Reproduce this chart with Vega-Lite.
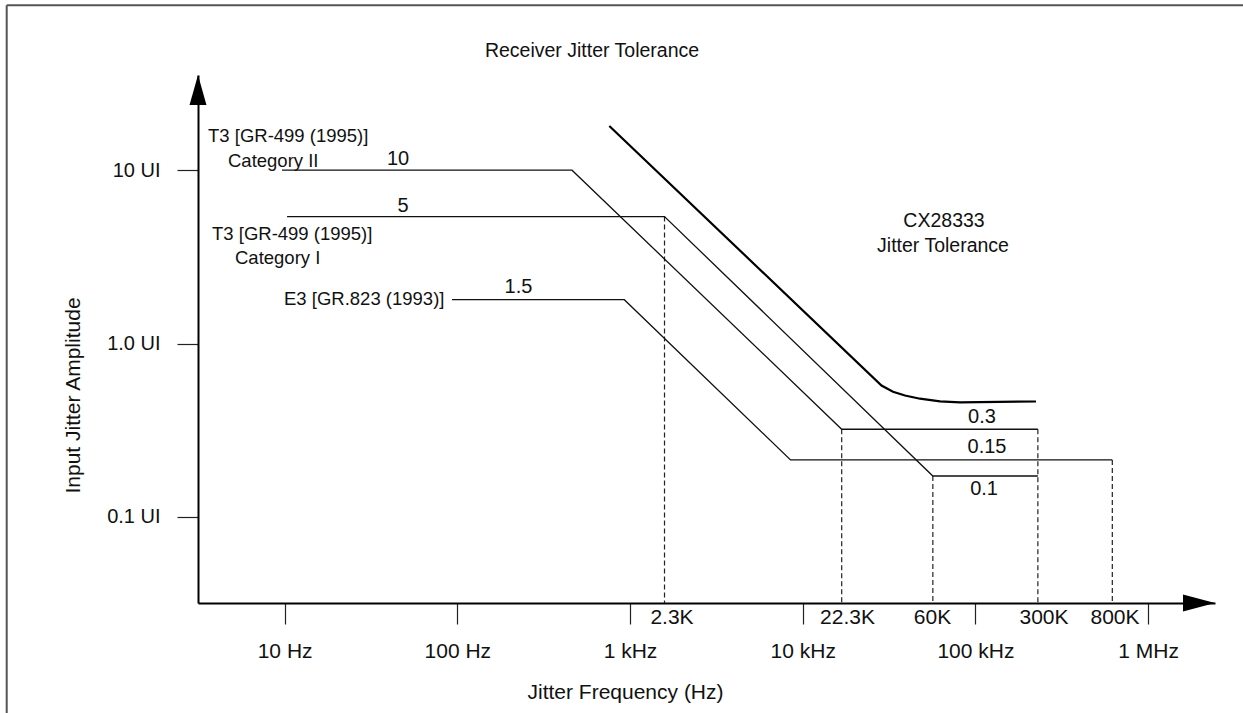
{
  "$schema": "https://vega.github.io/schema/vega-lite/v6.json",
  "usermeta": {"embedOptions": {"actions": false}},
  "width": 1017,
  "height": 528,
  "autosize": {"type": "none"},
  "padding": {"left": 198, "top": 75, "right": 28, "bottom": 110},
  "background": "white",
  "config": {
    "view": {"stroke": null},
    "font": "Liberation Sans",
    "text": {"font": "Liberation Sans", "fontSize": 18}
  },
  "datasets": {
    "curves": [
      {"series": "T3 Category II", "order": 1, "f": 9.66, "v": 10},
      {"series": "T3 Category II", "order": 2, "f": 461.5, "v": 10},
      {"series": "T3 Category II", "order": 3, "f": 16820, "v": 0.32},
      {"series": "T3 Category II", "order": 4, "f": 230000, "v": 0.32},
      {"series": "T3 Category I", "order": 1, "f": 10.33, "v": 5.4},
      {"series": "T3 Category I", "order": 2, "f": 1584, "v": 5.4},
      {"series": "T3 Category I", "order": 3, "f": 56700, "v": 0.172},
      {"series": "T3 Category I", "order": 4, "f": 230000, "v": 0.172},
      {"series": "E3", "order": 1, "f": 93.2, "v": 1.79},
      {"series": "E3", "order": 2, "f": 926.8, "v": 1.79},
      {"series": "E3", "order": 3, "f": 8500, "v": 0.213},
      {"series": "E3", "order": 4, "f": 620500, "v": 0.213},
      {"series": "CX28333", "order": 1, "f": 759, "v": 18.0},
      {"series": "CX28333", "order": 2, "f": 28600, "v": 0.5723},
      {"series": "CX28333", "order": 3, "f": 33340, "v": 0.527},
      {"series": "CX28333", "order": 4, "f": 39110, "v": 0.5011},
      {"series": "CX28333", "order": 5, "f": 47780, "v": 0.4803},
      {"series": "CX28333", "order": 6, "f": 62390, "v": 0.464},
      {"series": "CX28333", "order": 7, "f": 81450, "v": 0.4578},
      {"series": "CX28333", "order": 8, "f": 224300, "v": 0.4628}
    ],
    "dashes": [
      {"f": 1584, "v": 5.4, "vb": 0.03182},
      {"f": 16820, "v": 0.32, "vb": 0.03182},
      {"f": 56700, "v": 0.172, "vb": 0.03182},
      {"f": 230000, "v": 0.32, "vb": 0.03182},
      {"f": 620500, "v": 0.213, "vb": 0.03182}
    ],
    "labels": [
      {"kind": "title", "text": "Receiver Jitter Tolerance", "f": 602.6, "v": 45.3},
      {"kind": "name", "text": "T3 [GR-499 (1995)]", "f": 3.601, "v": 14.55},
      {"kind": "name", "text": "Category II", "f": 4.701, "v": 10.43},
      {"kind": "name", "text": "T3 [GR-499 (1995)]", "f": 3.798, "v": 3.957},
      {"kind": "name", "text": "Category I", "f": 5.161, "v": 2.875},
      {"kind": "name", "text": "E3 [GR.823 (1993)]", "f": 9.92, "v": 1.668},
      {"kind": "value", "text": "10", "f": 45.36, "v": 10.72},
      {"kind": "value", "text": "5", "f": 48.5, "v": 5.74},
      {"kind": "value", "text": "1.5", "f": 226.1, "v": 1.956},
      {"kind": "note", "text": "CX28333", "f": 65800, "v": 4.701},
      {"kind": "note", "text": "Jitter Tolerance", "f": 64930, "v": 3.373},
      {"kind": "value", "text": "0.3", "f": 109200, "v": 0.3478},
      {"kind": "value", "text": "0.15", "f": 116700, "v": 0.2334},
      {"kind": "value", "text": "0.1", "f": 112200, "v": 0.1336},
      {"kind": "freq", "text": "2.3K", "f": 1750, "v": 0.0242},
      {"kind": "freq", "text": "22.3K", "f": 18170, "v": 0.0242},
      {"kind": "freq", "text": "60K", "f": 56450, "v": 0.0242},
      {"kind": "freq", "text": "300K", "f": 249600, "v": 0.0242},
      {"kind": "freq", "text": "800K", "f": 643200, "v": 0.0242}
    ],
    "arrows": [
      {"dir": "up", "f": 3.151, "v": 35.43},
      {"dir": "right", "f": 2440000, "v": 0.03182}
    ],
    "frame": [
      {"side": "top", "f": 0.2459, "f2": 3600000, "v": 89.45, "v2": 89.45},
      {"side": "left", "f": 0.2459, "f2": 0.2459, "v": 89.45, "v2": 0.006}
    ]
  },
  "encoding": {
    "x": {
      "field": "f",
      "type": "quantitative",
      "scale": {"type": "log", "domain": [3.151, 2440000], "nice": false, "zero": false},
      "axis": {
        "values": [10, 100, 1000, 10000, 100000, 1000000],
        "labelExpr": "datum.value == 10 ? '10 Hz' : datum.value == 100 ? '100 Hz' : datum.value == 1000 ? '1 kHz' : datum.value == 10000 ? '10 kHz' : datum.value == 100000 ? '100 kHz' : '1 MHz'",
        "grid": false,
        "domainColor": "#000",
        "domainWidth": 2,
        "tickColor": "#222",
        "tickWidth": 1.2,
        "tickSize": 21,
        "labelFont": "Liberation Sans",
        "labelFontSize": 21,
        "labelColor": "#111",
        "labelBaseline": "alphabetic",
        "labelPadding": 33,
        "labelFlush": false,
        "labelOverlap": false,
        "labelBound": false,
        "title": "Jitter Frequency (Hz)",
        "titleFont": "Liberation Sans",
        "titleFontSize": 21,
        "titleFontWeight": "normal",
        "titleColor": "#111",
        "titleX": 427,
        "titleY": 95,
        "titleAlign": "center",
        "titleBaseline": "alphabetic"
      }
    },
    "y": {
      "field": "v",
      "type": "quantitative",
      "scale": {"type": "log", "domain": [0.03182, 35.43], "nice": false, "zero": false},
      "axis": {
        "values": [0.1, 1, 10],
        "labelExpr": "datum.value >= 5 ? '10 UI' : datum.value >= 0.5 ? '1.0 UI' : '0.1 UI'",
        "grid": false,
        "domainColor": "#000",
        "domainWidth": 2,
        "tickColor": "#222",
        "tickWidth": 1.2,
        "tickSize": 21,
        "labelFont": "Liberation Sans",
        "labelFontSize": 20,
        "labelColor": "#111",
        "labelPadding": 17,
        "labelFlush": false,
        "labelOverlap": false,
        "labelBound": false,
        "title": "Input Jitter Amplitude",
        "titleFont": "Liberation Sans",
        "titleFontSize": 21,
        "titleFontWeight": "normal",
        "titleColor": "#111",
        "titleAngle": 270,
        "titleX": -119,
        "titleY": 320,
        "titleAlign": "center",
        "titleBaseline": "alphabetic"
      }
    }
  },
  "layer": [
    {
      "data": {"name": "frame"},
      "mark": {"type": "rule", "color": "#555", "strokeWidth": 2},
      "encoding": {
        "x2": {"field": "f2"},
        "y2": {"field": "v2"}
      }
    },
    {
      "data": {"name": "dashes"},
      "mark": {"type": "rule", "color": "#222", "strokeWidth": 1.2, "strokeDash": [5, 3]},
      "encoding": {
        "y2": {"field": "vb"}
      }
    },
    {
      "data": {"name": "curves"},
      "transform": [{"filter": "datum.series != 'CX28333'"}],
      "mark": {"type": "line", "color": "#111", "strokeWidth": 1.3},
      "encoding": {
        "detail": {"field": "series", "type": "nominal"},
        "order": {"field": "order", "type": "quantitative"}
      }
    },
    {
      "data": {"name": "curves"},
      "transform": [{"filter": "datum.series == 'CX28333'"}],
      "mark": {"type": "line", "color": "#000", "strokeWidth": 2.2},
      "encoding": {
        "order": {"field": "order", "type": "quantitative"}
      }
    },
    {
      "data": {"name": "labels"},
      "transform": [{"filter": "datum.kind == 'name'"}],
      "mark": {"type": "text", "align": "left", "baseline": "alphabetic", "color": "#111", "font": "Liberation Sans", "fontSize": 18.5},
      "encoding": {
        "text": {"field": "text", "type": "nominal"}
      }
    },
    {
      "data": {"name": "labels"},
      "transform": [{"filter": "datum.kind == 'value'"}],
      "mark": {"type": "text", "align": "center", "baseline": "alphabetic", "color": "#111", "font": "Liberation Sans", "fontSize": 20},
      "encoding": {
        "text": {"field": "text", "type": "nominal"}
      }
    },
    {
      "data": {"name": "labels"},
      "transform": [{"filter": "datum.kind == 'note' || datum.kind == 'title'"}],
      "mark": {"type": "text", "align": "center", "baseline": "alphabetic", "color": "#111", "font": "Liberation Sans", "fontSize": 19.5},
      "encoding": {
        "text": {"field": "text", "type": "nominal"}
      }
    },
    {
      "data": {"name": "labels"},
      "transform": [{"filter": "datum.kind == 'freq'"}],
      "mark": {"type": "text", "align": "center", "baseline": "alphabetic", "color": "#111", "font": "Liberation Sans", "fontSize": 21},
      "encoding": {
        "text": {"field": "text", "type": "nominal"}
      }
    },
    {
      "data": {"name": "arrows"},
      "mark": {"type": "point", "filled": true, "size": 1024, "color": "#000", "strokeWidth": 0, "opacity": 1},
      "encoding": {
        "shape": {
          "field": "dir",
          "type": "nominal",
          "scale": {"domain": ["up", "right"], "range": ["M0,0L0.53,1.875L-0.53,1.875Z", "M0,0L-2,-0.53L-2,0.53Z"]},
          "legend": null
        }
      }
    }
  ]
}
